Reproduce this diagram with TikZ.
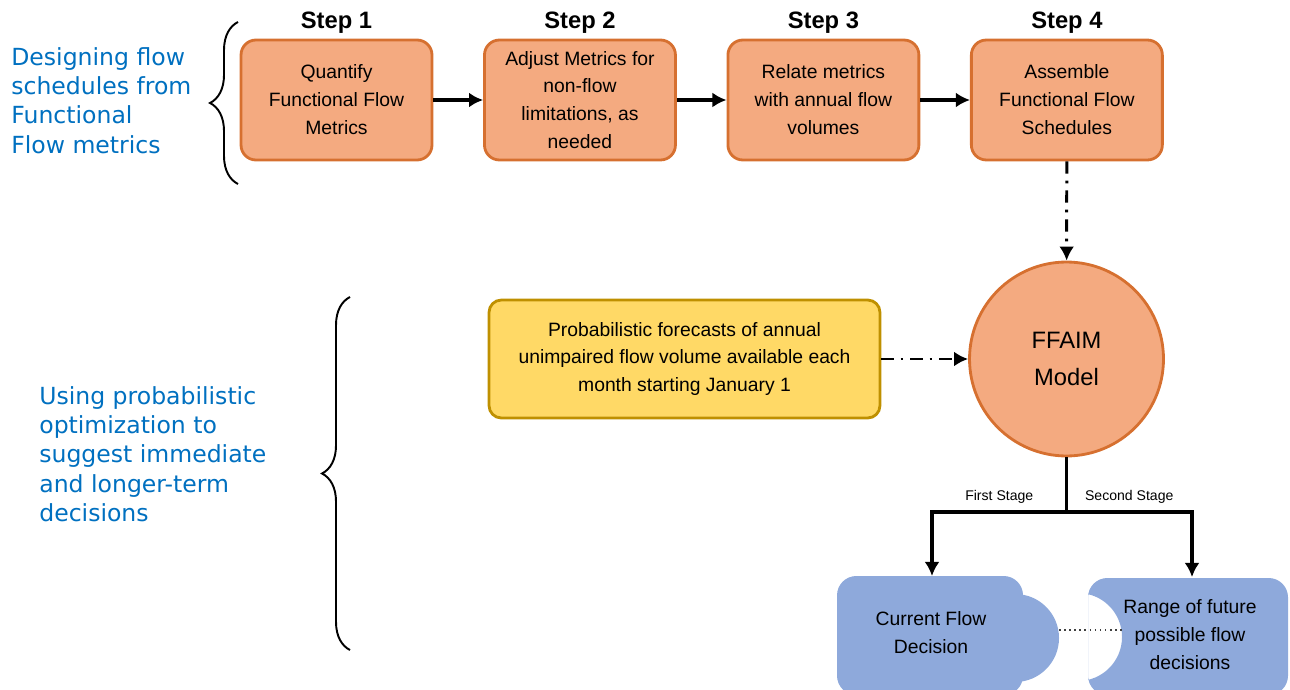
\documentclass[tikz,border=0pt]{standalone}
\usepackage{fontspec}
\setmainfont{Liberation Sans}
\newfontfamily\notefont{DejaVu Sans}
\usetikzlibrary{arrows.meta,decorations.pathreplacing}
\definecolor{stepfill}{RGB}{244,170,128}
\definecolor{stepline}{RGB}{214,112,48}
\definecolor{fcfill}{RGB}{255,217,102}
\definecolor{fcline}{RGB}{191,144,0}
\definecolor{decfill}{RGB}{142,169,219}
\definecolor{notecolor}{RGB}{0,112,192}

\begin{document}
\begin{tikzpicture}[x=0.02cm, y=-0.02cm, node distance=4.87cm]
    \tikzstyle{stepbox} = [draw=stepline, fill=stepfill, line width=1.6pt, rectangle, rounded corners=8.5pt, minimum width=3.82cm, minimum height=2.4cm, align=center, font=\fontsize{11}{15.9}\selectfont]
    \tikzstyle{steplabel} = [font=\bfseries\fontsize{13.5}{15}\selectfont]
    \tikzstyle{forecastbox} = [draw=fcline, fill=fcfill, line width=1.6pt, rectangle, rounded corners=7pt, minimum width=7.82cm, minimum height=2.36cm, align=center, font=\fontsize{11}{15.9}\selectfont]
    \tikzstyle{model} = [draw=stepline, fill=stepfill, line width=1.6pt, circle, minimum size=3.88cm, align=center, font=\fontsize{13.5}{21}\selectfont]
    \tikzstyle{decision} = [align=center, font=\fontsize{11}{15.9}\selectfont]
    \tikzstyle{note} = [text=notecolor, align=left, anchor=north west, inner sep=0pt, font=\notefont\fontsize{13.4}{16.7}\selectfont]
    \tikzstyle{stagelabel} = [font=\fontsize{8}{9}\selectfont, inner sep=4pt]
    \tikzstyle{arrow} = [line width=2pt, -{Latex[length=8pt,width=8.5pt]}]
    \tikzstyle{flowlink} = [line width=1.7pt, dash pattern=on 7pt off 4pt on 1.5pt off 4pt, -{Latex[length=8pt,width=8.5pt]}]
    \tikzstyle{brace} = [line width=1.1pt, decorate, decoration={brace, amplitude=0.56cm}]
    \useasboundingbox (0,0) rectangle (1290,689);

    % design steps
    \node (box1) [stepbox] at (336.5,100) {Quantify\\Functional Flow\\Metrics};
    \node (box2) [stepbox, right of=box1] {Adjust Metrics for\\non-flow\\limitations, as\\needed};
    \node (box3) [stepbox, right of=box2] {Relate metrics\\with annual flow\\volumes};
    \node (box4) [stepbox, right of=box3] {Assemble\\Functional Flow\\Schedules};
    \node (step1) [steplabel, above of=box1, node distance=1.54cm] {Step 1};
    \node (step2) [steplabel, above of=box2, node distance=1.54cm] {Step 2};
    \node (step3) [steplabel, above of=box3, node distance=1.54cm] {Step 3};
    \node (step4) [steplabel, above of=box4, node distance=1.54cm] {Step 4};

    \draw [arrow] (box1) -- (box2);
    \draw [arrow] (box2) -- (box3);
    \draw [arrow] (box3) -- (box4);

    % optimization
    \node (ffaim) [model] at (1066.5,359) {FFAIM\\Model};
    \node (forecast) [forecastbox] at (684.5,359) {Probabilistic forecasts of annual\\unimpaired flow volume available each\\month starting January 1};
    \draw [flowlink] (box4) -- (ffaim);
    \draw [flowlink] (forecast) -- (ffaim);

    % decision pieces
    \fill [decfill, rounded corners=11pt] (837,695) -- (837,576) -- (1023,576) -- (1023,695) -- cycle;
    \fill [decfill] (1015,638) circle [radius=44];
    \begin{scope}
        \clip (1088,570) rectangle (1300,700);
        \fill [decfill, even odd rule, rounded corners=11pt] (1088,695) -- (1088,578) -- (1288,578) -- (1288,695) -- cycle (1078,637) circle [radius=44];
    \end{scope}
    \node (current) [decision] at (931,633) {Current Flow\\Decision};
    \node (range) [decision] at (1190,635) {Range of future\\possible flow\\decisions};
    \coordinate (bump) at (1059,630);
    \coordinate (notch) at (1122,630);
    \draw [dotted, line width=0.9pt, black!75] (bump) -- (notch);

    \coordinate (split) at (1066.5,512);
    \coordinate (curtop) at (932,576);
    \coordinate (rangetop) at (1192,577);
    \draw [line width=2pt] (ffaim) -- (split);
    \draw [arrow] (split) -| node [stagelabel, above, pos=0.25] {First Stage} (curtop);
    \draw [arrow] (split) -| node [stagelabel, above, pos=0.25] {Second Stage} (rangetop);

    % side notes
    \draw [brace] (238,184) -- (238,22);
    \draw [brace] (350,650) -- (350,297);
    \node (designnote) [note] at (11,47) {Designing flow\\schedules from\\Functional\\Flow metrics};
    \node (optnote) [note] at (39,386) {Using probabilistic\\optimization to\\suggest immediate\\and longer-term\\decisions};
\end{tikzpicture}
\end{document}
